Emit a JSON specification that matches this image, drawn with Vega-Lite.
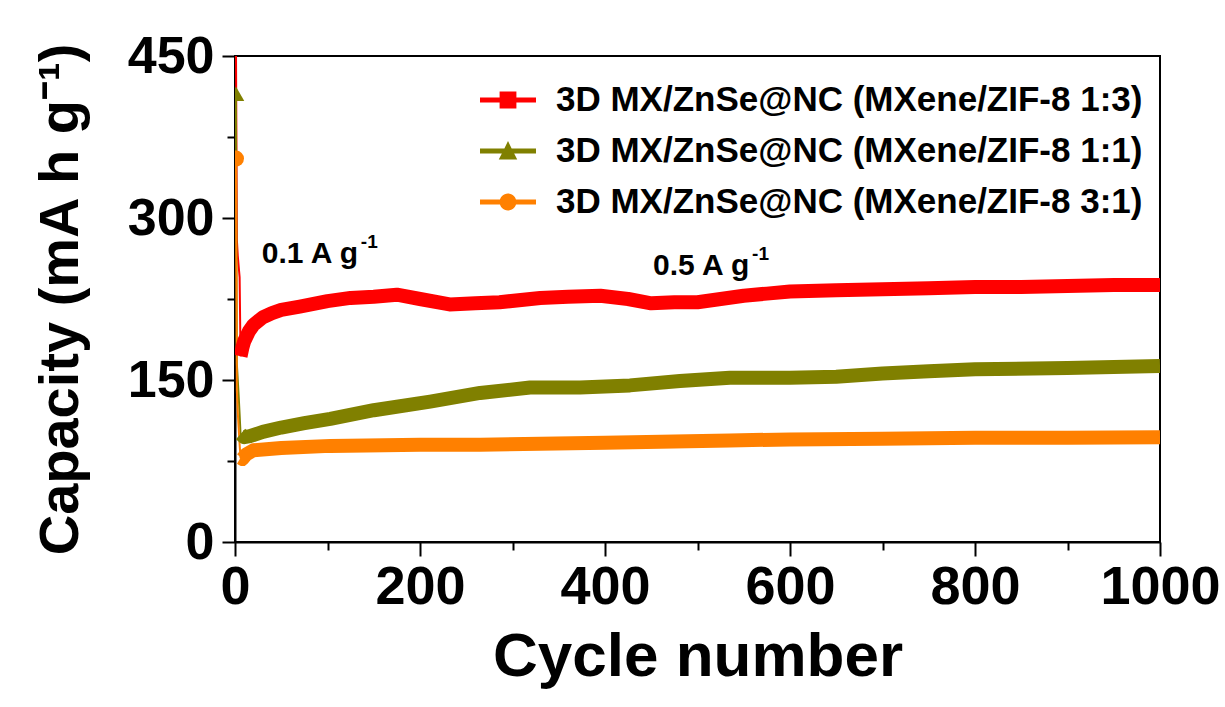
{
  "$schema": "https://vega.github.io/schema/vega-lite/v6.json",
  "width": 925,
  "height": 486,
  "autosize": {"type": "none"},
  "padding": {"left": 235, "top": 56, "right": 65, "bottom": 165},
  "background": "white",
  "config": {
    "view": {"stroke": "black", "strokeWidth": 2},
    "font": "Liberation Sans",
    "axis": {
      "domainColor": "black", "domainWidth": 2, "tickColor": "black", "tickWidth": 2,
      "labelFont": "Liberation Sans", "labelFontWeight": "bold", "labelFontSize": 52, "labelColor": "black",
      "titleFont": "Liberation Sans", "titleFontWeight": "bold", "titleFontSize": 60, "titleColor": "black",
      "grid": false, "labelFlush": false, "labelOverlap": false, "labelBound": false
    }
  },
  "datasets": {
    "cap": [
      {"s": "1:3", "cycle": 1, "cap": 470}, {"s": "1:3", "cycle": 2, "cap": 280}, {"s": "1:3", "cycle": 3, "cap": 265},
      {"s": "1:3", "cycle": 4, "cap": 255}, {"s": "1:3", "cycle": 5, "cap": 245}, {"s": "1:3", "cycle": 6, "cap": 172},
      {"s": "1:3", "cycle": 8, "cap": 180}, {"s": "1:3", "cycle": 10, "cap": 186}, {"s": "1:3", "cycle": 15, "cap": 195},
      {"s": "1:3", "cycle": 20, "cap": 201}, {"s": "1:3", "cycle": 30, "cap": 208}, {"s": "1:3", "cycle": 40, "cap": 212},
      {"s": "1:3", "cycle": 50, "cap": 215}, {"s": "1:3", "cycle": 70, "cap": 218}, {"s": "1:3", "cycle": 100, "cap": 223},
      {"s": "1:3", "cycle": 125, "cap": 226}, {"s": "1:3", "cycle": 150, "cap": 227}, {"s": "1:3", "cycle": 175, "cap": 229},
      {"s": "1:3", "cycle": 200, "cap": 225}, {"s": "1:3", "cycle": 232, "cap": 220}, {"s": "1:3", "cycle": 260, "cap": 221},
      {"s": "1:3", "cycle": 286, "cap": 222}, {"s": "1:3", "cycle": 330, "cap": 226}, {"s": "1:3", "cycle": 360, "cap": 227},
      {"s": "1:3", "cycle": 395, "cap": 228}, {"s": "1:3", "cycle": 425, "cap": 225}, {"s": "1:3", "cycle": 450, "cap": 221},
      {"s": "1:3", "cycle": 475, "cap": 222}, {"s": "1:3", "cycle": 500, "cap": 222}, {"s": "1:3", "cycle": 525, "cap": 225},
      {"s": "1:3", "cycle": 550, "cap": 228}, {"s": "1:3", "cycle": 575, "cap": 230}, {"s": "1:3", "cycle": 600, "cap": 232},
      {"s": "1:3", "cycle": 650, "cap": 233}, {"s": "1:3", "cycle": 700, "cap": 234}, {"s": "1:3", "cycle": 750, "cap": 235},
      {"s": "1:3", "cycle": 800, "cap": 236}, {"s": "1:3", "cycle": 850, "cap": 236}, {"s": "1:3", "cycle": 900, "cap": 237},
      {"s": "1:3", "cycle": 950, "cap": 238}, {"s": "1:3", "cycle": 1000, "cap": 238},

      {"s": "1:1", "cycle": 1, "cap": 415}, {"s": "1:1", "cycle": 2, "cap": 165}, {"s": "1:1", "cycle": 3, "cap": 150},
      {"s": "1:1", "cycle": 4, "cap": 135}, {"s": "1:1", "cycle": 5, "cap": 118}, {"s": "1:1", "cycle": 6, "cap": 100},
      {"s": "1:1", "cycle": 10, "cap": 97}, {"s": "1:1", "cycle": 16, "cap": 98}, {"s": "1:1", "cycle": 30, "cap": 102},
      {"s": "1:1", "cycle": 50, "cap": 106}, {"s": "1:1", "cycle": 75, "cap": 110}, {"s": "1:1", "cycle": 103, "cap": 114},
      {"s": "1:1", "cycle": 150, "cap": 122}, {"s": "1:1", "cycle": 211, "cap": 130}, {"s": "1:1", "cycle": 265, "cap": 138},
      {"s": "1:1", "cycle": 319, "cap": 143}, {"s": "1:1", "cycle": 373, "cap": 143}, {"s": "1:1", "cycle": 427, "cap": 145},
      {"s": "1:1", "cycle": 481, "cap": 149}, {"s": "1:1", "cycle": 535, "cap": 152}, {"s": "1:1", "cycle": 600, "cap": 152},
      {"s": "1:1", "cycle": 650, "cap": 153}, {"s": "1:1", "cycle": 700, "cap": 156}, {"s": "1:1", "cycle": 750, "cap": 158},
      {"s": "1:1", "cycle": 800, "cap": 160}, {"s": "1:1", "cycle": 900, "cap": 161}, {"s": "1:1", "cycle": 1000, "cap": 163},

      {"s": "3:1", "cycle": 1, "cap": 355}, {"s": "3:1", "cycle": 2, "cap": 140}, {"s": "3:1", "cycle": 3, "cap": 120},
      {"s": "3:1", "cycle": 4, "cap": 105}, {"s": "3:1", "cycle": 5, "cap": 90}, {"s": "3:1", "cycle": 6, "cap": 78},
      {"s": "3:1", "cycle": 8, "cap": 77}, {"s": "3:1", "cycle": 12, "cap": 81}, {"s": "3:1", "cycle": 20, "cap": 85},
      {"s": "3:1", "cycle": 50, "cap": 87}, {"s": "3:1", "cycle": 103, "cap": 89}, {"s": "3:1", "cycle": 200, "cap": 90},
      {"s": "3:1", "cycle": 265, "cap": 90}, {"s": "3:1", "cycle": 400, "cap": 92}, {"s": "3:1", "cycle": 535, "cap": 94},
      {"s": "3:1", "cycle": 600, "cap": 95}, {"s": "3:1", "cycle": 700, "cap": 95.5}, {"s": "3:1", "cycle": 800, "cap": 96.5},
      {"s": "3:1", "cycle": 900, "cap": 96.5}, {"s": "3:1", "cycle": 1000, "cap": 97}
    ],
    "ann": [
      {"label": "0.1 A g", "sup": "-1", "cycle": 29, "cap": 267},
      {"label": "0.5 A g", "sup": "-1", "cycle": 452, "cap": 256}
    ]
  },
  "layer": [
    {
      "data": {"name": "cap"},
      "mark": {"type": "line", "strokeWidth": 2, "clip": true},
      "encoding": {
        "x": {"field": "cycle", "type": "quantitative", "scale": {"domain": [0, 1000], "nice": false},
          "axis": {"orient": "bottom", "values": [0, 200, 400, 600, 800, 1000], "format": "d", "labelFontSize": 54, "tickSize": 14, "labelPadding": 4, "title": "Cycle number", "titleFontSize": 62, "titlePadding": 12}},
        "y": {"field": "cap", "type": "quantitative", "scale": {"domain": [0, 450], "nice": false},
          "axis": {"orient": "left", "values": [0, 150, 300, 450], "tickSize": 13, "labelPadding": 8, "title": "Capacity (mA h g⁻¹)", "titleFontSize": 56, "titlePadding": 38}},
        "color": {"field": "s", "type": "nominal",
          "scale": {"domain": ["1:3", "1:1", "3:1"], "range": ["#FF0000", "#808000", "#FF8000"]},
          "legend": {
            "orient": "none", "legendX": 245, "legendY": 16, "title": null, "padding": 0,
            "labelFont": "Liberation Sans", "labelFontWeight": "bold", "labelFontSize": 35, "labelColor": "black",
            "labelLimit": 900, "labelOffset": 20, "rowPadding": 5, "symbolSize": 3136,
            "labelExpr": "'3D MX/ZnSe@NC (MXene/ZIF-8 ' + datum.label + ')'",
            "encode": {"symbols": {"update": {
              "shape": {"signal": "datum.value === '1:3' ? 'M-1,-0.09H-0.3V-0.3H0.3V-0.09H1V0.09H0.3V0.3H-0.3V0.09H-1Z' : datum.value === '1:1' ? 'M-1,-0.09H-0.13L0,-0.36L0.13,-0.09H1V0.09H0.22L0.33,0.3H-0.33L-0.22,0.09H-1Z' : 'M-1,-0.09H1V0.09H-1Z M-0.3,0A0.3,0.3 0 1,1 0.3,0A0.3,0.3 0 1,1 -0.3,0Z'"},
              "fill": {"scale": "color", "field": "value"},
              "stroke": {"value": "transparent"},
              "strokeWidth": {"value": 0},
              "opacity": {"value": 1}
            }}}
          }},
        "order": {"field": "cycle"}
      }
    },
    {
      "data": {"name": "cap"},
      "transform": [{"filter": "datum.cycle >= 6"}],
      "mark": {"type": "line", "strokeWidth": 14, "strokeJoin": "round", "clip": true},
      "encoding": {
        "x": {"field": "cycle", "type": "quantitative", "axis": null},
        "y": {"field": "cap", "type": "quantitative", "axis": null},
        "color": {"field": "s", "type": "nominal"},
        "order": {"field": "cycle"}
      }
    },
    {
      "data": {"name": "cap"},
      "transform": [{"filter": "datum.cycle == 1 && datum.s == '1:1'"}],
      "mark": {"type": "point", "filled": true, "opacity": 1, "size": 280, "shape": "triangle-up", "color": "#808000", "clip": true},
      "encoding": {
        "x": {"field": "cycle", "type": "quantitative", "axis": null},
        "y": {"field": "cap", "type": "quantitative", "axis": null}
      }
    },
    {
      "data": {"name": "cap"},
      "transform": [{"filter": "datum.cycle == 1 && datum.s == '3:1'"}],
      "mark": {"type": "point", "filled": true, "opacity": 1, "size": 260, "shape": "circle", "color": "#FF8000", "clip": true},
      "encoding": {
        "x": {"field": "cycle", "type": "quantitative", "axis": null},
        "y": {"field": "cap", "type": "quantitative", "axis": null}
      }
    },
    {
      "data": {"name": "cap"},
      "mark": {"type": "point", "opacity": 0},
      "encoding": {
        "x": {"field": "cycle", "type": "quantitative",
          "axis": {"orient": "bottom", "values": [100, 300, 500, 700, 900], "tickSize": 8, "labels": false, "domain": false, "title": null}},
        "y": {"field": "cap", "type": "quantitative",
          "axis": {"orient": "left", "values": [75, 225, 375], "tickSize": 8, "labels": false, "domain": false, "title": null}}
      }
    },
    {
      "data": {"name": "ann"},
      "mark": {"type": "text", "align": "left", "baseline": "middle", "fontSize": 30, "fontWeight": "bold", "font": "Liberation Sans", "color": "black"},
      "encoding": {
        "x": {"field": "cycle", "type": "quantitative", "axis": null},
        "y": {"field": "cap", "type": "quantitative", "axis": null},
        "text": {"field": "label"}
      }
    },
    {
      "data": {"name": "ann"},
      "mark": {"type": "text", "align": "left", "baseline": "middle", "fontSize": 19, "fontWeight": "bold", "font": "Liberation Sans", "color": "black", "dx": 99, "dy": -12},
      "encoding": {
        "x": {"field": "cycle", "type": "quantitative", "axis": null},
        "y": {"field": "cap", "type": "quantitative", "axis": null},
        "text": {"field": "sup"}
      }
    }
  ],
  "resolve": {"axis": {"x": "independent", "y": "independent"}}
}
